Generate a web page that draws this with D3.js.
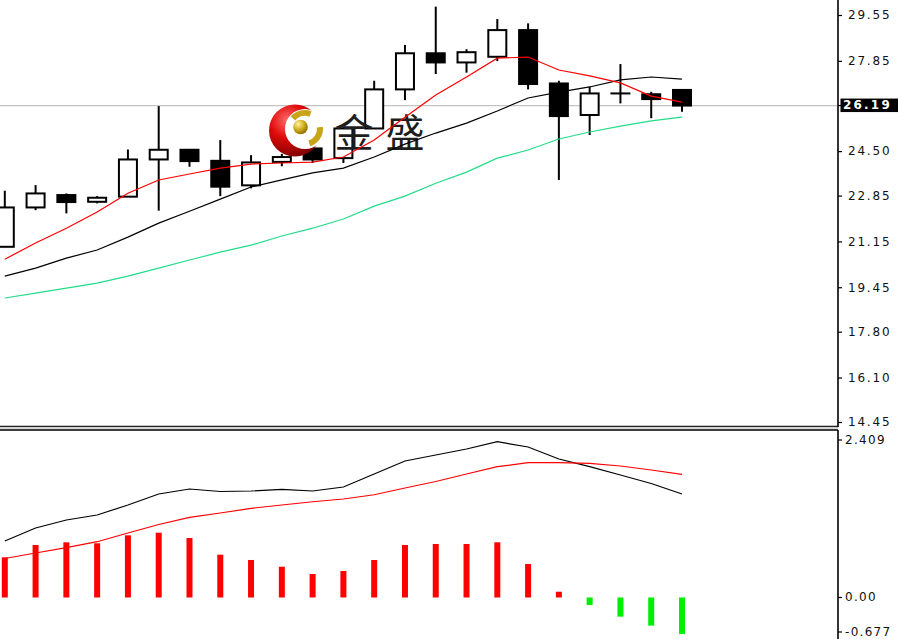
<!DOCTYPE html>
<html>
<head>
<meta charset="utf-8">
<script src="https://cdn.jsdelivr.net/npm/d3@7/dist/d3.min.js"></script>
<style>
  html, body { margin: 0; padding: 0; background: #fff; }
  svg { display: block; }
</style>
</head>
<body>
<script>
// ---------- data ----------
const categories = d3.range(23);
const open  = [20.95,22.41,22.87,22.62,22.81,24.19,24.55,24.14,23.23,24.10,24.60,24.24,25.34,26.79,28.13,27.79,28.00,28.99,27.01,25.84,26.64,26.61,26.77];
const high  = [23.03,23.24,22.93,22.83,24.56,26.17,24.55,24.91,24.35,24.40,24.72,25.39,27.11,28.44,29.86,28.28,29.40,29.24,27.11,26.89,27.73,26.70,26.77];
const low   = [20.94,22.31,22.19,22.56,22.81,22.29,23.92,22.83,23.12,23.94,24.06,24.06,25.34,26.39,27.36,27.41,27.84,26.79,23.43,25.10,26.27,25.72,25.96];
const close = [22.41,22.93,22.61,22.77,24.19,24.55,24.13,23.18,24.08,24.28,24.19,25.34,26.79,28.13,27.79,28.17,28.99,26.99,25.80,26.64,26.64,26.43,26.19];

const ma5  = [20.49,21.09,21.64,22.24,22.94,23.43,23.65,23.87,24.02,24.06,24.09,24.28,24.91,25.76,26.58,27.25,27.95,27.99,27.51,27.29,27.03,26.54,26.32];
const ma10 = [19.86,20.16,20.53,20.83,21.31,21.83,22.27,22.72,23.17,23.43,23.69,23.87,24.28,24.76,25.17,25.54,25.99,26.47,26.69,26.88,27.14,27.25,27.17];
const ma20 = [19.05,19.23,19.42,19.60,19.86,20.16,20.46,20.75,21.01,21.35,21.64,21.98,22.46,22.83,23.31,23.72,24.24,24.54,24.95,25.21,25.43,25.62,25.76];

const dif  = [0.822,1.012,1.128,1.201,1.346,1.507,1.579,1.543,1.550,1.575,1.550,1.608,1.798,1.987,2.074,2.162,2.268,2.191,2.016,1.904,1.783,1.659,1.507];
const dea  = [0.568,0.648,0.725,0.812,0.939,1.063,1.165,1.230,1.298,1.346,1.394,1.434,1.496,1.594,1.688,1.798,1.904,1.962,1.962,1.951,1.914,1.856,1.793];
const macdHist = [0.585,0.764,0.803,0.789,0.905,0.943,0.866,0.623,0.546,0.448,0.342,0.386,0.546,0.764,0.779,0.779,0.803,0.488,0.084,-0.109,-0.279,-0.410,-0.531];

const priceTicks = [29.55,27.85,24.50,22.85,21.15,19.45,17.80,16.10,14.45];
const priceTickLabels = ["29.55","27.85","24.50","22.85","21.15","19.45","17.80","16.10","14.45"];
const currentPrice = 26.19;
const currentPriceLabel = "26.19";
const macdTicks = [2.409, 0, -0.677];
const macdTickLabels = ["2.409","0.00","-0.677"];
const logoText = ["金","盛"];

// ---------- layout ----------
const W = 901, H = 639;
const axisX = 838;
const svg = d3.select("body").append("svg").attr("width", W).attr("height", H);
const defs = svg.append("defs");
defs.append("clipPath").attr("id","clipMain").append("rect").attr("x",0).attr("y",0).attr("width",axisX-1).attr("height",426);
defs.append("clipPath").attr("id","clipLow").append("rect").attr("x",0).attr("y",431).attr("width",axisX-1).attr("height",H-431);

const x = d3.scaleLinear().domain([0, 22]).range([4.8, 682]);
const yMain = d3.scaleLinear().domain([14.45, 29.55]).range([422, 15]);
const yLow = d3.scaleLinear().domain([-0.677, 2.409]).range([644, 432]);

// ---------- main panel ----------
const main = svg.append("g").attr("clip-path","url(#clipMain)");

// current price line
main.append("line")
  .attr("x1",0).attr("x2",axisX)
  .attr("y1",yMain(currentPrice)).attr("y2",yMain(currentPrice))
  .attr("stroke","#c4c4c4").attr("stroke-width",1.2);

// wicks
main.append("g").selectAll("line").data(categories).join("line")
  .attr("x1",i=>x(i)).attr("x2",i=>x(i))
  .attr("y1",i=>yMain(high[i])).attr("y2",i=>yMain(low[i]))
  .attr("stroke","#000").attr("stroke-width",2);

// bodies
const bodyW = 18;
main.append("g").selectAll("rect").data(categories.filter(i=>Math.abs(open[i]-close[i])>0.005)).join("rect")
  .attr("x",i=>x(i)-bodyW/2)
  .attr("width",bodyW)
  .attr("y",i=>yMain(Math.max(open[i],close[i])))
  .attr("height",i=>Math.abs(yMain(open[i])-yMain(close[i])))
  .attr("fill",i=>close[i]>=open[i] ? "#fff" : "#000")
  .attr("stroke","#000").attr("stroke-width",2);
// doji
main.append("g").selectAll("line").data(categories.filter(i=>Math.abs(open[i]-close[i])<=0.005)).join("line")
  .attr("x1",i=>x(i)-bodyW/2-1).attr("x2",i=>x(i)+bodyW/2+1)
  .attr("y1",i=>yMain(open[i])).attr("y2",i=>yMain(open[i]))
  .attr("stroke","#000").attr("stroke-width",2);

// logo watermark
const logo = svg.append("g");
const rg = defs.append("radialGradient").attr("id","redBall").attr("cx","35%").attr("cy","30%").attr("r","75%");
rg.append("stop").attr("offset","0%").attr("stop-color","#ff6a6a");
rg.append("stop").attr("offset","45%").attr("stop-color","#e00a0a");
rg.append("stop").attr("offset","100%").attr("stop-color","#7a0000");
const gg = defs.append("radialGradient").attr("id","goldBall").attr("cx","35%").attr("cy","30%").attr("r","75%");
gg.append("stop").attr("offset","0%").attr("stop-color","#fff2a0");
gg.append("stop").attr("offset","50%").attr("stop-color","#d4b020");
gg.append("stop").attr("offset","100%").attr("stop-color","#8a6a00");
logo.append("circle").attr("cx",295).attr("cy",130.5).attr("r",26).attr("fill","url(#redBall)");
logo.append("circle").attr("cx",305).attr("cy",129).attr("r",20).attr("fill","#fff");
const arc = d3.arc();
logo.append("path").attr("transform","translate(305,129)")
  .attr("d", arc({innerRadius:13, outerRadius:19, startAngle:-0.85, endAngle:0.35}))
  .attr("fill","#c8a418");
logo.append("path").attr("transform","translate(305,129)")
  .attr("d", arc({innerRadius:12, outerRadius:18, startAngle:1.45, endAngle:2.85}))
  .attr("fill","#c8a418");
logo.append("circle").attr("cx",300.5).attr("cy",127).attr("r",7.3).attr("fill","url(#goldBall)");
logo.selectAll("text").data(logoText).join("text")
  .attr("x",(d,i)=>354 + i*51).attr("y",147)
  .attr("text-anchor","middle")
  .attr("font-family","'Noto Sans CJK SC', sans-serif")
  .attr("font-size",39)
  .attr("fill","#1e1e1e")
  .text(d=>d);

// moving averages
const lineMain = arr => d3.line().x((d,i)=>x(i)).y(d=>yMain(d))(arr);
const mainLines = svg.append("g").attr("clip-path","url(#clipMain)");
mainLines.append("path").attr("d",lineMain(ma20)).attr("fill","none").attr("stroke","#22dd88").attr("stroke-width",1.2);
mainLines.append("path").attr("d",lineMain(ma10)).attr("fill","none").attr("stroke","#000").attr("stroke-width",1.2);
mainLines.append("path").attr("d",lineMain(ma5)).attr("fill","none").attr("stroke","#ff0000").attr("stroke-width",1.2);

// ---------- lower panel ----------
const low_ = svg.append("g").attr("clip-path","url(#clipLow)");
low_.append("g").selectAll("rect").data(categories).join("rect")
  .attr("x",i=>x(i)-3).attr("width",6)
  .attr("y",i=>Math.min(yLow(0), yLow(macdHist[i])))
  .attr("height",i=>Math.abs(yLow(macdHist[i])-yLow(0)))
  .attr("fill",i=>macdHist[i]>=0 ? "#ff0000" : "#00ee00");
const lineLow = arr => d3.line().x((d,i)=>x(i)).y(d=>yLow(d))(arr);
low_.append("path").attr("d",lineLow(dif)).attr("fill","none").attr("stroke","#000").attr("stroke-width",1.2);
low_.append("path").attr("d",lineLow(dea)).attr("fill","none").attr("stroke","#ff0000").attr("stroke-width",1.2);

// ---------- frames / axes ----------
svg.append("line").attr("x1",0).attr("x2",axisX).attr("y1",426.5).attr("y2",426.5).attr("stroke","#222").attr("stroke-width",1.3);
svg.append("rect").attr("x",0).attr("y",427.3).attr("width",axisX).attr("height",2).attr("fill","#d8d8d8");
svg.append("line").attr("x1",0).attr("x2",axisX).attr("y1",430).attr("y2",430).attr("stroke","#000").attr("stroke-width",1.3);
svg.append("line").attr("x1",axisX).attr("x2",axisX).attr("y1",0).attr("y2",427).attr("stroke","#000").attr("stroke-width",1.6);
svg.append("line").attr("x1",axisX).attr("x2",axisX).attr("y1",430).attr("y2",H).attr("stroke","#000").attr("stroke-width",1.6);

const axisFont = "'DejaVu Sans', Verdana, sans-serif";
const gMainAxis = svg.append("g").attr("transform",`translate(${axisX},0)`)
  .call(d3.axisRight(yMain).tickValues(priceTicks).tickFormat((d,i)=>priceTickLabels[i]).tickSize(4).tickPadding(6));
gMainAxis.select(".domain").remove();
gMainAxis.selectAll("text").attr("font-family",axisFont).attr("font-size",12).attr("letter-spacing","1.8px").attr("fill","#111");
gMainAxis.selectAll("line").attr("stroke","#000").attr("stroke-width",1.2);

// current price tag
const cp = svg.append("g").attr("transform",`translate(${axisX},${yMain(currentPrice)})`);
cp.append("line").attr("x1",0).attr("x2",4).attr("stroke","#000").attr("stroke-width",1.2);
cp.append("rect").attr("x",2.5).attr("y",-7).attr("width",57.5).attr("height",13.5).attr("fill","#000");
cp.append("text").attr("x",5).attr("dy","0.32em").attr("font-family",axisFont).attr("font-weight","bold")
  .attr("font-size",12).attr("letter-spacing","2.2px").attr("fill","#fff").text(currentPriceLabel);

const gLowAxis = svg.append("g").attr("transform",`translate(${axisX},0)`)
  .call(d3.axisRight(yLow).tickValues(macdTicks).tickFormat((d,i)=>macdTickLabels[i]).tickSize(4).tickPadding(3));
gLowAxis.select(".domain").remove();
gLowAxis.selectAll(".tick").attr("transform", d => `translate(0,${Math.max(440, Math.min(632, yLow(d)))})`);
gLowAxis.selectAll("text").attr("font-family",axisFont).attr("font-size",12).attr("letter-spacing","1.3px").attr("fill","#111");
gLowAxis.selectAll("line").attr("stroke","#000").attr("stroke-width",1.2);
</script>
</body>
</html>
